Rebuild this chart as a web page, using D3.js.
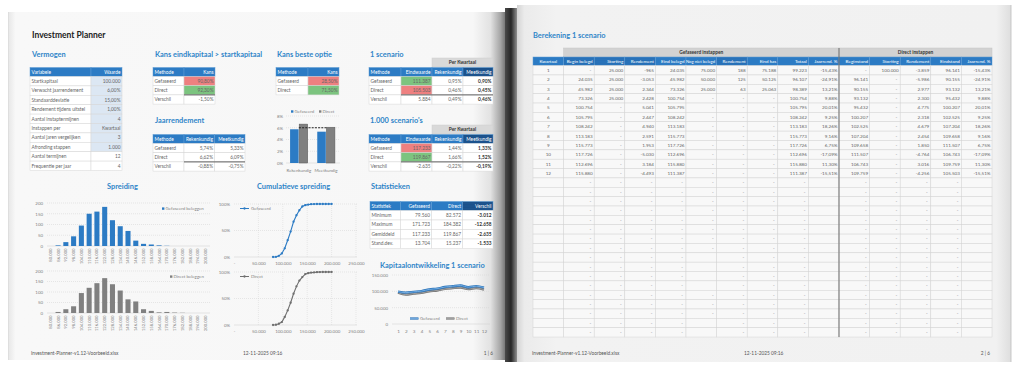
<!DOCTYPE html>
<html><head><meta charset="utf-8">
<script src="https://cdn.jsdelivr.net/npm/d3@7"></script>
<style>
html,body{margin:0;padding:0;background:#fff;}
svg{display:block;font-family:Lato,"Open Sans",sans-serif;}
</style></head><body>
<svg id="c" width="1024" height="380"></svg>
<script>
// ---------------- DATA ----------------
const vermogenVars = ["Startkapitaal","Verwacht jaarrendement","Standaarddeviatie","Rendement tijdens uitstel","Aantal instaptermijnen","Instappen per","Aantal jaren vergelijken","Afronding stappen","Aantal termijnen","Frequentie per jaar"];
const vermogenVals = ["100.000","6,00%","15,00%","1,00%","4","Kwartaal","3","1.000","12","4"];
const methods = ["Gefaseerd","Direct","Verschil"];
const kansEind = ["90,80%","92,30%","-1,50%"];
const jaarRek = ["5,74%","6,62%","-0,88%"];
const jaarMeet = ["5,33%","6,09%","-0,75%"];
const kansBeste = ["28,50%","71,50%"];
const scen1Eind = ["111.387","105.503","5.884"];
const scen1Rek = ["0,95%","0,46%","0,49%"];
const scen1Meet = ["0,90%","0,45%","0,46%"];
const scen1000Eind = ["117.233","119.867","-2.635"];
const scen1000Rek = ["1,44%","1,66%","-0,22%"];
const scen1000Meet = ["1,33%","1,52%","-0,19%"];
const statNames = ["Minimum","Maximum","Gemiddeld","Stand.dev."];
const statGef = ["79.560","171.723","117.233","13.704"];
const statDir = ["82.572","184.382","119.867","15.237"];
const statDiff = ["-3.012","-12.658","-2.635","-1.533"];
const rendCategories = ["Rekenkundig","Meetkundig"];
const rendSeries = ["Gefaseerd","Direct"];
const rendGefaseerd = [5.74,5.33];
const rendDirect = [6.62,6.09];
const expectedReturn = 6.0;
const rendTicks = [0,2,4,6,8];
const binValues = [80000,86000,92000,98000,104000,110000,116000,122000,128000,134000,140000,146000,152000,158000,164000,170000,176000,182000,188000,194000,200000];
const histGefaseerd = [0,3,18,45,95,150,160,182,120,92,70,25,10,7,3,1,0,0,0,0,0];
const histDirect    = [0,5,18,32,95,120,142,166,137,107,65,55,18,10,3,5,2,1,0,0,0];
const histTicks = [0,50,100,150,200];
const cumTicks = [0,50000,100000,150000,200000,250000];
const cumPctTicks = [0,0.5,1];
const quarters = [1,2,3,4,5,6,7,8,9,10,11,12];
const capGefaseerd = [99223,96107,98389,100754,105795,108242,113183,115773,117726,112696,115880,111387];
const capDirect    = [96141,90155,93132,95432,100207,102525,107204,109658,111507,106743,109759,105503];
const capTicks = [0,50000,100000,150000];
const calcHeaders = ["Kwartaal","Begin belegd","Storting","Rendement","Eind belegd","Nog niet belegd","Rendement","Eind kas","Totaal","Jaarrend. %","Beginstand","Storting","Rendement","Eindstand","Jaarrend. %"];
const calcRows = [
 ["1","-","25.000","-965","24.035","75.000","188","75.188","99.223","-15,43%","-","100.000","-3.859","96.141","-15,43%"],
 ["2","24.035","25.000","-3.053","45.982","50.000","125","50.125","96.107","-24,91%","96.141","-","-5.986","90.155","-24,91%"],
 ["3","45.982","25.000","2.344","73.326","25.000","63","25.063","98.389","13,21%","90.155","-","2.977","93.132","13,21%"],
 ["4","73.326","25.000","2.428","100.754","-","-","-","100.754","9,88%","93.132","-","2.300","95.432","9,88%"],
 ["5","100.754","-","5.041","105.795","-","-","-","105.795","20,01%","95.432","-","4.775","100.207","20,01%"],
 ["6","105.795","-","2.447","108.242","-","-","-","108.242","9,25%","100.207","-","2.318","102.525","9,25%"],
 ["7","108.242","-","4.940","113.183","-","-","-","113.183","18,26%","102.525","-","4.679","107.204","18,26%"],
 ["8","113.183","-","2.591","115.773","-","-","-","115.773","9,16%","107.204","-","2.454","109.658","9,16%"],
 ["9","115.773","-","1.953","117.726","-","-","-","117.726","6,75%","109.658","-","1.850","111.507","6,75%"],
 ["10","117.726","-","-5.030","112.696","-","-","-","112.696","-17,09%","111.507","-","-4.764","106.743","-17,09%"],
 ["11","112.696","-","3.184","115.880","-","-","-","115.880","11,30%","106.743","-","3.016","109.759","11,30%"],
 ["12","115.880","-","-4.493","111.387","-","-","-","111.387","-15,51%","109.759","-","-4.256","105.503","-15,51%"]
];
const emptyRowCount = 17;
const emptyNogNietBlank = [8,9,10,11,15,16]; // empty rows without "-" in 'Nog niet belegd'

// ---------------- HELPERS ----------------
const BLUE = "#2c7bc4", GREY = "#808080", TITLE = "#2f85c8";
const svg = d3.select("#c");
const defs = svg.append("defs");
function grad(id, stops){
  const g = defs.append("linearGradient").attr("id",id).attr("x1",0).attr("x2",1).attr("y1",0).attr("y2",0);
  stops.forEach(s=>g.append("stop").attr("offset",s[0]).attr("stop-color",s[1]));
}
grad("lp",[[0,"#e6e6e6"],[0.015,"#f8f8f8"],[0.93,"#f7f7f7"],[0.965,"#e2e2e2"],[0.985,"#a5a5a5"],[1,"#5a5a5a"]]);
grad("sp",[[0,"#4a4a4a"],[0.5,"#262626"],[1,"#8f8f8f"]]);
grad("rp",[[0,"#d4d4d4"],[0.015,"#ebebeb"],[0.08,"#f2f2f2"],[0.97,"#f1f1f1"],[1,"#dedede"]]);
function dots(id, base, dot){
  const p = defs.append("pattern").attr("id",id).attr("width",1.6).attr("height",1.6).attr("patternUnits","userSpaceOnUse");
  p.append("rect").attr("width",1.6).attr("height",1.6).attr("fill",base);
  p.append("circle").attr("cx",0.8).attr("cy",0.8).attr("r",0.45).attr("fill",dot);
}
dots("dk","#1f5c9c","#0b2b52");
dots("db","#2c7bc4","#17508c");

const fmtNL = d => d===0 ? "-" : d3.format(",")(d).replace(/,/g,".");

function cell(g,x,y,w,h,txt,o={}){
  g.append("rect").attr("x",x).attr("y",y).attr("width",w).attr("height",h)
   .attr("fill",o.fill||"#fff").attr("stroke",o.stroke||"#d6d6d6").attr("stroke-width",0.5);
  if(txt!==undefined && txt!==""){
    const a = o.anchor||"end";
    const pad = (txt==="-" && a==="end") ? 3 : 1.5;
    const tx = a==="end" ? x+w-pad : a==="middle" ? x+w/2 : x+1.5;
    g.append("text").attr("x",tx).attr("y",y+h/2+1.7).attr("text-anchor",a)
     .attr("font-size",o.size||4.8).attr("fill",o.color||"#666")
     .attr("font-weight",o.bold?"bold":null).text(txt);
  }
}
function drawTable(g,x,y,widths,header,columns,o={}){
  const rowH=o.rowH||9.3, headH=o.headH||9;
  let cx=x;
  widths.forEach((w,c)=>{
    cell(g,cx,y,w,headH,header[c],{fill:(o.headFill&&o.headFill(c))||BLUE,color:"#fff",anchor:c===0?"start":"end",stroke:"#5d9bd3"});
    columns[c].forEach((v,r)=>{
      const b = o.bold && o.bold(r,c);
      cell(g,cx,y+headH+r*rowH,w,rowH,v,{fill:(o.fill&&o.fill(r,c))||"#fff",anchor:c===0?"start":"end",bold:b,color:b?"#333":"#666"});
    });
    cx+=w;
  });
  if(o.topLine!==undefined){
    const ly = y+headH+o.topLine*rowH;
    g.append("line").attr("x1",x+widths[0]).attr("x2",x+d3.sum(widths)).attr("y1",ly).attr("y2",ly).attr("stroke","#555").attr("stroke-width",0.9);
  }
}
function title(x,y,t,o={}){
  svg.append("text").attr("x",x).attr("y",y).attr("font-size",o.size||7.4).attr("font-weight","bold")
     .attr("fill",o.color||TITLE).text(t);
}
function styleAxis(sel,size){
  sel.select(".domain").remove();
  sel.selectAll(".tick line").remove();
  sel.selectAll("text").attr("font-size",size||4.2).attr("fill","#7f7f7f").attr("font-family","Lato");
}
function hgrid(g,scale,ticks,x1,x2){
  g.selectAll(null).data(ticks).enter().append("line")
   .attr("x1",x1).attr("x2",x2).attr("y1",d=>scale(d)).attr("y2",d=>scale(d))
   .attr("stroke",d=>d===0?"#cfcfcf":"#d3d3d3").attr("stroke-width",0.5).attr("stroke-dasharray",d=>d===0?null:"1,1");
}

// ---------------- PAGES ----------------
svg.append("rect").attr("x",8).attr("y",12).attr("width",500).attr("height",348).attr("fill","url(#lp)");
svg.append("line").attr("x1",8.5).attr("x2",8.5).attr("y1",12).attr("y2",360).attr("stroke","#d8d8d8").attr("stroke-width",0.6);
svg.append("rect").attr("x",505).attr("y",8).attr("width",12).attr("height",354).attr("fill","url(#sp)");
svg.append("rect").attr("x",517).attr("y",5).attr("width",494).attr("height",357).attr("fill","url(#rp)");
svg.append("line").attr("x1",1011).attr("x2",1011).attr("y1",5).attr("y2",362).attr("stroke","#bdbdbd").attr("stroke-width",0.8);

// ---------------- LEFT PAGE TITLES / TABLES ----------------
title(32,38,"Investment Planner",{size:8.5,color:"#222"});
title(32,57,"Vermogen");
title(155,57,"Kans eindkapitaal > startkapitaal");
title(277,57,"Kans beste optie");
title(370,57,"1 scenario");
title(155,123,"Jaarrendement");
title(370,123,"1.000 scenario's");
title(107,189,"Spreiding");
title(257,189,"Cumulatieve spreiding");
title(371,189,"Statistieken");
title(380,268,"Kapitaalontwikkeling 1 scenario");

const T = svg.append("g");
drawTable(T,30,67.5,[61,31],["Variabele","Waarde"],[vermogenVars,vermogenVals],
  {rowH:9.4,fill:(r,c)=>c===1&&r<8?"#dce7f3":"#fff"});
drawTable(T,153,67.5,[31,31],["Methode","Kans"],[methods,kansEind],
  {rowH:9.2,topLine:2,fill:(r,c)=>c===1&&r===0?"#ee8080":c===1&&r===1?"#7cc47f":"#fff"});
drawTable(T,153,134.5,[31,30.5,30.5],["Methode","Rekenkundig","Meetkundig"],[methods,jaarRek,jaarMeet],
  {rowH:9.2,topLine:2});
drawTable(T,276,67.5,[32,31],["Methode","Kans"],[methods.slice(0,2),kansBeste],
  {rowH:9.2,fill:(r,c)=>c===1&&r===0?"#ee8080":c===1&&r===1?"#7cc47f":"#fff"});
// 1 scenario
cell(T,432,58,61,9,"Per Kwartaal",{fill:"#d9d9d9",anchor:"middle",bold:true,color:"#333",stroke:"#cfcfcf"});
drawTable(T,369,67.5,[32,31,31,30],["Methode","Eindwaarde","Rekenkundig","Meetkundig"],[methods,scen1Eind,scen1Rek,scen1Meet],
  {rowH:9.2,topLine:2,headFill:c=>c===3?"url(#dk)":BLUE,bold:(r,c)=>c===3,
   fill:(r,c)=>c===1&&r===0?"#7cc47f":c===1&&r===1?"#ee8080":"#fff"});
// 1000 scenarios
cell(T,432,125,61,9,"Per Kwartaal",{fill:"#d9d9d9",anchor:"middle",bold:true,color:"#333",stroke:"#cfcfcf"});
drawTable(T,369,134.5,[32,31,31,30],["Methode","Eindwaarde","Rekenkundig","Meetkundig"],[methods,scen1000Eind,scen1000Rek,scen1000Meet],
  {rowH:9.2,topLine:2,headFill:c=>c===3?"url(#dk)":BLUE,bold:(r,c)=>c===3,
   fill:(r,c)=>c===1&&r===0?"#ee8080":c===1&&r===1?"#7cc47f":"#fff"});
// stats
drawTable(T,370,201.5,[30.5,31,31,30.5],["Statistiek","Gefaseerd","Direct","Verschil"],[statNames,statGef,statDir,statDiff],
  {rowH:9.5,headFill:c=>c===3?"url(#dk)":BLUE,bold:(r,c)=>c===3});

// ---------------- BAR CHART (kans beste optie) ----------------
{
  const g = svg.append("g");
  const x = d3.scaleBand().domain(rendCategories).range([286,339]).paddingInner(0.35).paddingOuter(0.15);
  const xs = d3.scaleBand().domain(rendSeries).range([0,x.bandwidth()]).paddingInner(0.06);
  const y = d3.scaleLinear().domain([0,8]).range([163,116]);
  hgrid(g,y,rendTicks,286,340);
  const ya = g.append("g").attr("transform","translate(286,0)").call(d3.axisLeft(y).tickValues(rendTicks).tickFormat(d=>d+"%").tickSize(0).tickPadding(3));
  styleAxis(ya,4.4);
  const xa = g.append("g").attr("transform","translate(0,163)").call(d3.axisBottom(x).tickSize(0).tickPadding(6));
  styleAxis(xa,4.4);
  const data = rendCategories.map((c,i)=>({c,vals:[{s:"Gefaseerd",v:rendGefaseerd[i]},{s:"Direct",v:rendDirect[i]}]}));
  const grp = g.selectAll(null).data(data).enter().append("g").attr("transform",d=>`translate(${x(d.c)},0)`);
  grp.selectAll("rect").data(d=>d.vals).enter().append("rect")
    .attr("x",d=>xs(d.s)).attr("width",xs.bandwidth()).attr("y",d=>y(d.v)).attr("height",d=>y(0)-y(d.v))
    .attr("fill",d=>d.s==="Gefaseerd"?BLUE:GREY).attr("stroke",d=>d.s==="Direct"?"#5a5a5a":"none").attr("stroke-width",0.5);
  g.append("line").attr("x1",x(rendCategories[0])+x.bandwidth()/2).attr("x2",x(rendCategories[1])+x.bandwidth()/2)
    .attr("y1",y(expectedReturn)).attr("y2",y(expectedReturn)).attr("stroke","#222").attr("stroke-width",1).attr("stroke-dasharray","2,1.2");
  const lg = g.append("g");
  [[291,"Gefaseerd",BLUE],[319,"Direct",GREY]].forEach(([lx,t,col])=>{
    lg.append("rect").attr("x",lx).attr("y",110.3).attr("width",2.4).attr("height",2.4).attr("fill",col);
    lg.append("text").attr("x",lx+3.5).attr("y",113).attr("font-size",4.4).attr("fill","#7f7f7f").text(t);
  });
}

// ---------------- HISTOGRAMS ----------------
function histogram(counts,color,y0,y1,legendText,legendX,legendY){
  const g = svg.append("g");
  const labels = binValues.map(fmtNL);
  const x = d3.scaleBand().domain(labels).range([47,209]).paddingInner(0.35).paddingOuter(0.1);
  const y = d3.scaleLinear().domain([0,200]).range([y0,y1]);
  hgrid(g,y,histTicks,47,210);
  const ya = g.append("g").attr("transform","translate(47,0)").call(d3.axisLeft(y).tickValues(histTicks).tickSize(0).tickPadding(4));
  styleAxis(ya,4.4);
  g.selectAll("rect.b").data(counts).enter().append("rect").attr("class","b")
    .attr("x",(d,i)=>x(labels[i])).attr("width",x.bandwidth()).attr("y",d=>y(d)).attr("height",d=>y(0)-y(d)).attr("fill",color);
  const xa = g.append("g").attr("transform",`translate(0,${y0})`).call(d3.axisBottom(x).tickSize(0));
  styleAxis(xa,4.2);
  xa.selectAll("text").attr("transform","rotate(-90)").attr("x",-2.5).attr("y",0).attr("dy","0.35em").attr("text-anchor","end");
  g.append("rect").attr("x",legendX).attr("y",legendY-2.6).attr("width",2.4).attr("height",2.4).attr("fill",color);
  g.append("text").attr("x",legendX+3.5).attr("y",legendY).attr("font-size",4.4).attr("fill","#7f7f7f").text(legendText);
}
histogram(histGefaseerd,BLUE,246,203,"Gefaseerd beleggen",162,210);
histogram(histDirect,GREY,313,271,"Direct beleggen",170,278);

// ---------------- CUMULATIVE ----------------
function cumulative(counts,color,y0,y1,name){
  const g = svg.append("g");
  const total = d3.sum(counts);
  const cum = Array.from(d3.cumsum(counts)).map(v=>v/total);
  const x = d3.scaleLinear().domain([0,250000]).range([234,356]);
  const y = d3.scaleLinear().domain([0,1]).range([y0,y1]);
  hgrid(g,y,cumPctTicks,234,357);
  g.selectAll(null).data(cumTicks.slice(1)).enter().append("line")
    .attr("x1",d=>x(d)).attr("x2",d=>x(d)).attr("y1",y1).attr("y2",y0)
    .attr("stroke","#d6d6d6").attr("stroke-width",0.5).attr("stroke-dasharray","1,1");
  const ya = g.append("g").attr("transform","translate(234,0)").call(d3.axisLeft(y).tickValues(cumPctTicks).tickFormat(d3.format(".0%")).tickSize(0).tickPadding(4));
  styleAxis(ya,4.4);
  const xa = g.append("g").attr("transform",`translate(0,${y0})`).call(d3.axisBottom(x).tickValues(cumTicks).tickFormat(fmtNL).tickSize(0).tickPadding(5));
  styleAxis(xa,4.4);
  const pts = binValues.map((b,i)=>[b,cum[i]]);
  g.append("path").attr("d",d3.line().x(d=>x(d[0])).y(d=>y(d[1]))(pts)).attr("fill","none").attr("stroke",color).attr("stroke-width",1.1);
  g.selectAll("circle").data(pts).enter().append("circle").attr("cx",d=>x(d[0])).attr("cy",d=>y(d[1])).attr("r",1.15).attr("fill",color);
  const ly = y1+4.5;
  g.append("line").attr("x1",240).attr("x2",249).attr("y1",ly).attr("y2",ly).attr("stroke",color).attr("stroke-width",1);
  g.append("circle").attr("cx",244.5).attr("cy",ly).attr("r",1.15).attr("fill",color);
  g.append("text").attr("x",251).attr("y",ly+1.5).attr("font-size",4.4).attr("fill","#7f7f7f").text(name);
}
cumulative(histGefaseerd,BLUE,257,204,"Gefaseerd");
cumulative(histDirect,"#6f6f6f",325,272,"Direct");

// ---------------- KAPITAALONTWIKKELING ----------------
{
  const g = svg.append("g");
  const x = d3.scalePoint().domain(quarters).range([398,484]);
  const y = d3.scaleLinear().domain([0,150000]).range([324,275]);
  hgrid(g,y,capTicks,392,490);
  const ya = g.append("g").attr("transform","translate(391,0)").call(d3.axisLeft(y).tickValues(capTicks).tickFormat(d=>d===0?"0":fmtNL(d)).tickSize(0).tickPadding(3));
  styleAxis(ya,4.4);
  const xa = g.append("g").attr("transform","translate(0,324)").call(d3.axisBottom(x).tickSize(0).tickPadding(6));
  styleAxis(xa,4.6);
  const line = d3.line().x((d,i)=>x(quarters[i])).y(d=>y(d)).curve(d3.curveMonotoneX);
  g.append("path").attr("d",line(capDirect)).attr("fill","none").attr("stroke","#767676").attr("stroke-width",2.3);
  g.append("path").attr("d",line(capDirect)).attr("fill","none").attr("stroke","#a9a9a9").attr("stroke-width",0.8);
  g.append("path").attr("d",line(capGefaseerd)).attr("fill","none").attr("stroke","#2a72b8").attr("stroke-width",2.4);
  g.append("path").attr("d",line(capGefaseerd)).attr("fill","none").attr("stroke","#7db4e6").attr("stroke-width",0.9);
  [[410,"Gefaseerd","#2a72b8","#7db4e6"],[446,"Direct","#767676","#a9a9a9"]].forEach(([lx,t,c1,c2])=>{
    g.append("line").attr("x1",lx).attr("x2",lx+8.5).attr("y1",318.5).attr("y2",318.5).attr("stroke",c1).attr("stroke-width",2.2);
    g.append("line").attr("x1",lx).attr("x2",lx+8.5).attr("y1",318.5).attr("y2",318.5).attr("stroke",c2).attr("stroke-width",0.8);
    g.append("text").attr("x",lx+10).attr("y",320).attr("font-size",4.4).attr("fill","#7f7f7f").text(t);
  });
}

// ---------------- FOOTERS ----------------
function footer(x1,x2,x3,pg){
  svg.append("text").attr("x",x1).attr("y",355).attr("font-size",4.8).attr("fill","#555").text("Investment-Planner-v1.12-Voorbeeld.xlsx");
  svg.append("text").attr("x",x2).attr("y",355).attr("font-size",4.8).attr("fill","#555").text("12-11-2025 09:16");
  svg.append("text").attr("x",x3).attr("y",355).attr("font-size",4.8).attr("fill","#555").attr("text-anchor","end").text(pg);
}
footer(31,243,493,"1 | 6");
footer(532,744,990,"2 | 6");

// ---------------- RIGHT PAGE ----------------
title(533,38,"Berekening 1 scenario");
{
  const g = svg.append("g");
  const x0 = 533, cw = 30.6, headY = 57, headH = 8.6, rowH = 9.36, rowY = 65.6;
  const colX = i => x0 + i*cw;
  cell(g,colX(1),48,cw*9,9,"Gefaseerd instappen",{fill:"#d2d2d2",anchor:"middle",bold:true,color:"#333",stroke:"#c6c6c6"});
  cell(g,colX(10),48,cw*5,9,"Direct instappen",{fill:"#d2d2d2",anchor:"middle",bold:true,color:"#333",stroke:"#c6c6c6"});
  const dotted = [1,2,3,6];
  calcHeaders.forEach((h,i)=>{
    cell(g,colX(i),headY,cw,headH,h,{fill:dotted.includes(i)?"url(#db)":BLUE,color:"#fff",anchor:i===0?"middle":"end",stroke:"#5d9bd3",size:i===5?4.2:4.6});
  });
  const empty = d3.range(emptyRowCount).map(k=>calcHeaders.map((h,i)=>{
    if(i===0||i===9||i===14) return "";
    if(i===5 && emptyNogNietBlank.includes(k)) return "";
    return "-";
  }));
  const rows = calcRows.concat(empty);
  rows.forEach((r,ri)=>{
    r.forEach((v,ci)=>{
      cell(g,colX(ci),rowY+ri*rowH,cw,rowH,v,{fill:"#f8f8f8",anchor:ci===0?"middle":"end",size:4.6,stroke:"#d4d4d4"});
    });
  });
  const bottom = rowY+rows.length*rowH;
  g.append("line").attr("x1",colX(10)).attr("x2",colX(10)).attr("y1",48).attr("y2",bottom).attr("stroke","#6e6e6e").attr("stroke-width",1);
}
</script>
</body></html>
